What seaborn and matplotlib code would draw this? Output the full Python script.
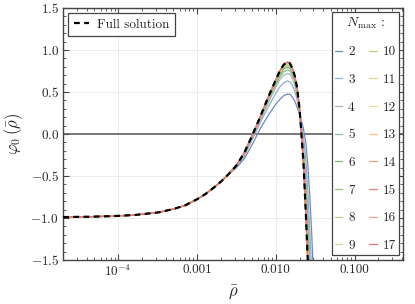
import pandas as pd
import seaborn as sns
import matplotlib.pyplot as plt
from matplotlib.lines import Line2D
from matplotlib.ticker import AutoMinorLocator

# rho grid shared by all curves
rho = [2.0e-5, 4.0e-5, 7.9e-5, 1.6e-4, 3.2e-4, 5.0e-4, 7.1e-4, 1.0e-3, 1.26e-3,
       1.58e-3, 2.0e-3, 2.51e-3, 3.16e-3, 3.98e-3, 5.01e-3, 6.31e-3, 7.94e-3,
       0.0100, 0.0112, 0.0126, 0.0141, 0.0151, 0.0162, 0.0174, 0.0186, 0.0200,
       0.0211, 0.0224, 0.0240, 0.0254, 0.0269, 0.0285, 0.0302]

# low-rho part, identical for every curve
phi_low = [-0.990, -0.986, -0.980, -0.966, -0.935, -0.895, -0.850, -0.778,
           -0.720, -0.650, -0.570, -0.480]

phi_full = phi_low + [-0.375, -0.225, -0.020, 0.200, 0.430, 0.645, 0.748, 0.825,
                      0.857, 0.840, 0.780, 0.690, 0.550, 0.300, 0.000, -0.340,
                      -0.940, -1.500, -2.100, -2.800, -3.500]

phi_N2 = phi_low + [-0.405, -0.295, -0.130, 0.060, 0.215, 0.355, 0.410, 0.455,
                    0.476, 0.470, 0.440, 0.390, 0.320, 0.240, 0.160, 0.060,
                    -0.100, -0.360, -0.720, -1.180, -1.750]
phi_N3 = phi_low + [-0.390, -0.265, -0.070, 0.130, 0.315, 0.485, 0.558, 0.610,
                    0.630, 0.620, 0.580, 0.510, 0.410, 0.260, 0.120, -0.030,
                    -0.300, -0.660, -1.120, -1.640, -2.250]
phi_N4 = phi_low + [-0.383, -0.248, -0.045, 0.160, 0.362, 0.555, 0.643, 0.700,
                    0.720, 0.710, 0.660, 0.580, 0.460, 0.270, 0.080, -0.140,
                    -0.500, -0.920, -1.420, -2.000, -2.600]
phi_N5 = phi_low + [-0.380, -0.240, -0.035, 0.175, 0.390, 0.585, 0.677, 0.740,
                    0.760, 0.750, 0.700, 0.620, 0.490, 0.280, 0.050, -0.200,
                    -0.620, -1.080, -1.620, -2.200, -2.800]
phi_N6 = phi_low + [-0.378, -0.235, -0.030, 0.185, 0.405, 0.608, 0.702, 0.770,
                    0.790, 0.780, 0.730, 0.645, 0.510, 0.285, 0.030, -0.250,
                    -0.720, -1.200, -1.760, -2.350, -3.000]
phi_N7 = phi_low + [-0.377, -0.232, -0.026, 0.190, 0.415, 0.625, 0.722, 0.790,
                    0.810, 0.800, 0.750, 0.660, 0.525, 0.290, 0.020, -0.280,
                    -0.800, -1.300, -1.880, -2.500, -3.100]
phi_N8 = phi_low + [-0.376, -0.229, -0.024, 0.194, 0.421, 0.633, 0.733, 0.805,
                    0.825, 0.815, 0.760, 0.672, 0.535, 0.295, 0.010, -0.300,
                    -0.850, -1.380, -1.950, -2.600, -3.200]
phi_N9 = phi_low + [-0.376, -0.228, -0.023, 0.196, 0.425, 0.638, 0.740, 0.813,
                    0.835, 0.825, 0.768, 0.680, 0.540, 0.297, 0.005, -0.320,
                    -0.890, -1.430, -2.000, -2.650, -3.300]
phi_N10 = phi_low + [-0.375, -0.227, -0.022, 0.197, 0.427, 0.641, 0.743, 0.818,
                     0.842, 0.830, 0.772, 0.684, 0.544, 0.298, 0.003, -0.330,
                     -0.910, -1.460, -2.040, -2.700, -3.350]
phi_N11 = phi_low + [-0.375, -0.226, -0.021, 0.198, 0.428, 0.643, 0.745, 0.821,
                     0.847, 0.834, 0.775, 0.686, 0.547, 0.299, 0.002, -0.335,
                     -0.920, -1.475, -2.060, -2.730, -3.400]
phi_N12 = phi_low + [-0.375, -0.226, -0.021, 0.199, 0.429, 0.644, 0.746, 0.822,
                     0.850, 0.836, 0.777, 0.688, 0.548, 0.299, 0.001, -0.337,
                     -0.928, -1.485, -2.075, -2.750, -3.430]
phi_N13 = phi_low + [-0.375, -0.225, -0.020, 0.199, 0.429, 0.644, 0.747, 0.823,
                     0.852, 0.838, 0.778, 0.689, 0.549, 0.300, 0.001, -0.338,
                     -0.932, -1.490, -2.085, -2.770, -3.460]
phi_N14 = phi_low + [-0.375, -0.225, -0.020, 0.200, 0.430, 0.645, 0.747, 0.824,
                     0.854, 0.839, 0.779, 0.689, 0.549, 0.300, 0.000, -0.339,
                     -0.935, -1.494, -2.090, -2.780, -3.480]
phi_N15 = phi_low + [-0.375, -0.225, -0.020, 0.200, 0.430, 0.645, 0.748, 0.824,
                     0.855, 0.839, 0.779, 0.690, 0.550, 0.300, 0.000, -0.340,
                     -0.937, -1.496, -2.095, -2.790, -3.490]
phi_N16 = phi_low + [-0.375, -0.225, -0.020, 0.200, 0.430, 0.645, 0.748, 0.825,
                     0.856, 0.840, 0.780, 0.690, 0.550, 0.300, 0.000, -0.340,
                     -0.939, -1.498, -2.098, -2.795, -3.495]
phi_N17 = phi_low + [-0.375, -0.225, -0.020, 0.200, 0.430, 0.645, 0.748, 0.825,
                     0.857, 0.840, 0.780, 0.690, 0.550, 0.300, 0.000, -0.340,
                     -0.940, -1.500, -2.100, -2.800, -3.500]

n_max = list(range(2, 18))
trunc = [phi_N2, phi_N3, phi_N4, phi_N5, phi_N6, phi_N7, phi_N8, phi_N9,
         phi_N10, phi_N11, phi_N12, phi_N13, phi_N14, phi_N15, phi_N16, phi_N17]

colors = ["#6f88c2", "#93a9d2", "#a3bab4", "#8ebb9c", "#82b672", "#98c27e",
          "#b9d08c", "#cbda93", "#cbc670", "#e5d48c", "#efd99d", "#f1c381",
          "#ee9f7c", "#e57c72", "#e8a3a3", "#e07272"]

rows = []
for n, ys in zip(n_max, trunc):
    for r, y in zip(rho, ys):
        rows.append({"rho": r, "phi": y, "N": str(n)})
df = pd.DataFrame(rows)
df_full = pd.DataFrame({"rho": rho, "phi": phi_full})

sns.set_theme(style="ticks")
plt.rcParams["font.family"] = "serif"
plt.rcParams["font.serif"] = ["cmr10"]
plt.rcParams["mathtext.fontset"] = "cm"
plt.rcParams["axes.formatter.use_mathtext"] = True
plt.rcParams["axes.unicode_minus"] = True

fig = plt.figure(figsize=(4.15, 3.04), dpi=100)
ax = fig.add_axes([0.152, 0.145, 0.819, 0.829])

ax.axhline(0, color="#555555", lw=1.1, zorder=1)
sns.lineplot(data=df, x="rho", y="phi", hue="N", palette=colors, estimator=None,
             sort=False, lw=0.9, legend=False, ax=ax, zorder=2)
sns.lineplot(data=df_full, x="rho", y="phi", color="black", lw=1.6,
             dashes=False, ax=ax, zorder=3, linestyle=(0, (2.6, 2.0)))

ax.set_xscale("log")
ax.set_xlim(2.0e-5, 0.41)
ax.set_ylim(-1.5, 1.5)
ax.set_xticks([1e-4, 1e-3, 1e-2, 1e-1])
ax.set_xticklabels(["$10^{-4}$", "0.001", "0.010", "0.100"])
ax.set_yticks([-1.5, -1.0, -0.5, 0.0, 0.5, 1.0, 1.5])
ax.yaxis.set_minor_locator(AutoMinorLocator(5))
ax.grid(True, which="major", color="#ececec", lw=0.7)
ax.set_axisbelow(True)
ax.tick_params(which="both", direction="in", top=True, right=True,
               color="#444444", labelsize=9.5, pad=3)
ax.tick_params(which="major", length=4, width=0.8)
ax.tick_params(which="minor", length=2, width=0.6)
for sp in ax.spines.values():
    sp.set_color("#444444")
    sp.set_linewidth(1.0)

ax.set_xlabel(r"$\bar{\rho}$", fontsize=12, labelpad=3)
ax.set_ylabel(r"$\varphi_0\,(\bar{\rho})$", fontsize=12, labelpad=4)

h_full = [Line2D([], [], color="black", lw=1.6, linestyle=(0, (2.6, 2.0)))]
leg1 = ax.legend(h_full, ["Full solution"], loc="upper left", fontsize=9.5,
                 frameon=True, fancybox=False, edgecolor="#444444",
                 framealpha=1, handlelength=1.2, handletextpad=0.6,
                 borderaxespad=0.4, borderpad=0.4)
leg1.get_frame().set_linewidth(0.9)
ax.add_artist(leg1)

h_n = [Line2D([], [], color=c, lw=0.9) for c in colors]
leg2 = ax.legend(h_n, [str(n) for n in n_max], ncol=2, loc="upper right",
                 title=r"$N_{\max}$ :", fontsize=9.5, title_fontsize=10,
                 frameon=True, fancybox=False, edgecolor="#444444",
                 framealpha=1, handlelength=0.55, handletextpad=0.45,
                 columnspacing=1.1, labelspacing=1.17, borderaxespad=0.3,
                 borderpad=0.25)
leg2.get_frame().set_linewidth(0.9)

fig.savefig("out.png", dpi=100)
